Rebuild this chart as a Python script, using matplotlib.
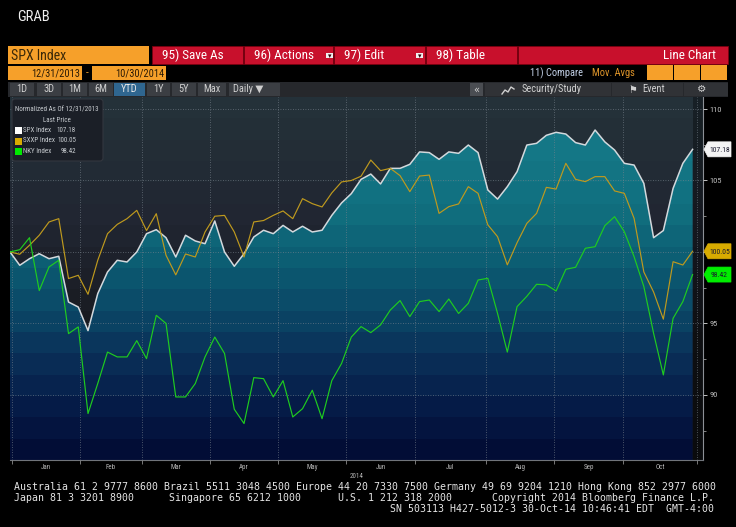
import numpy as np
import pandas as pd
import matplotlib
matplotlib.use("Agg")
import matplotlib.pyplot as plt
from matplotlib.patches import Rectangle, Polygon, FancyBboxPatch
from matplotlib.colors import LinearSegmentedColormap, ListedColormap
from matplotlib import font_manager

# ---- data -------------------------------------------------------------
start_date = "2013-12-31"
end_date = "2014-10-30"
axis_end = "2014-11-03"
holidays = ["2014-01-01", "2014-01-20", "2014-02-17", "2014-04-18",
            "2014-05-26", "2014-07-04", "2014-09-01"]
step = 3  # one reading every third session, normalized to 100 on 12/31/2013

spx = [100.0, 99.07, 99.53, 99.88, 99.53, 99.7, 96.5, 96.15, 94.5, 97.09,
       98.6, 99.42, 99.3, 100.0, 101.28, 101.56, 101.0, 99.65, 101.17, 100.77,
       100.58, 102.17, 100.0, 99.0, 99.88, 101.05, 101.52, 101.28, 101.86, 101.4,
       101.8, 101.4, 101.52, 102.56, 103.43, 104.08, 105.08, 105.45, 104.76, 105.85,
       105.85, 106.13, 107.0, 106.95, 106.48, 107.0, 106.9, 107.48, 106.95, 104.34,
       103.7, 104.57, 105.62, 107.48, 107.6, 108.16, 108.37, 108.25, 107.65, 107.48,
       108.53, 107.7, 107.13, 106.2, 106.08, 104.8, 101.0, 101.5, 104.45, 106.2,
       107.18]
sxxp = [100.0, 99.84, 100.47, 101.17, 102.1, 102.33, 98.14, 98.37, 97.04, 99.42,
        101.28, 101.93, 102.33, 102.91, 101.5, 102.68, 99.77, 98.4, 99.86, 99.65,
        101.4, 102.5, 102.56, 101.4, 99.65, 102.1, 102.2, 102.56, 102.87, 102.33,
        103.73, 103.38, 103.15, 104.13, 104.9, 105.0, 105.3, 106.43, 105.69, 105.85,
        105.34, 104.22, 105.31, 105.38, 102.7, 103.17, 103.36, 104.57, 104.1, 101.9,
        101.07, 99.1, 100.65, 102.0, 102.7, 104.52, 104.4, 106.2, 105.08, 104.92,
        105.27, 105.27, 104.27, 104.1, 102.35, 98.6, 97.2, 95.3, 99.32, 99.09,
        100.05]
nky = [100.0, 100.16, 101.0, 97.3, 98.95, 99.42, 94.29, 94.76, 88.7, 90.8,
       93.0, 92.66, 92.66, 93.8, 92.54, 95.57, 95.0, 89.86, 89.86, 90.8,
       92.66, 94.05, 92.9, 89.0, 88.0, 91.21, 91.14, 89.86, 91.0, 88.46,
       89.04, 90.33, 88.34, 91.0, 92.2, 94.05, 94.78, 94.36, 94.9, 95.94,
       96.6, 95.48, 96.53, 96.64, 95.83, 96.71, 95.7, 96.41, 98.04, 98.16,
       95.7, 93.0, 96.18, 96.9, 97.74, 97.7, 97.27, 98.79, 98.93, 100.26,
       100.37, 101.84, 102.47, 101.42, 99.67, 97.58, 94.31, 91.4, 95.36, 96.53,
       98.42]

series_names = ["SPX Index", "SXXP Index", "NKY Index"]
last_prices = ["107.18", "100.05", "98.42"]
months = ["Jan", "Feb", "Mar", "Apr", "May", "Jun", "Jul", "Aug", "Sep", "Oct"]
y_ticks = [90, 95, 100, 105, 110]
y_tick_labels = ["90", "95", "", "105", "110"]  # 100 sits under the SXXP tag

# ---- calendar ---------------------------------------------------------
cal = pd.bdate_range(start_date, axis_end)
cal = cal[~cal.isin(pd.to_datetime(holidays))]
n_data = int((cal <= pd.Timestamp(end_date)).sum())
x = np.arange(0, n_data, step)
month_starts = [i for i in range(1, len(cal)) if cal[i].month != cal[i - 1].month]
bounds = [m - 0.5 for m in month_starts]
centers_x = [(a + b) / 2 for a, b in zip(bounds[:-1], bounds[1:])]

# ---- fonts ------------------------------------------------------------
names = {f.name for f in font_manager.fontManager.ttflist}
ui_font = next((n for n in ["Liberation Sans Narrow", "Roboto Condensed"] if n in names),
               "Liberation Sans")
FAM = [ui_font, "DejaVu Sans"]
MONO = "DejaVu Sans Mono"

# ---- figure -----------------------------------------------------------
W, H = 736, 527
fig = plt.figure(figsize=(W / 100, H / 100), dpi=100, facecolor="black")
ax = fig.add_axes([10 / W, 1 - 460 / H, 693 / W, 363 / H], zorder=1)
ui = fig.add_axes([0, 0, 1, 1], zorder=2)
ui.set_xlim(0, W)
ui.set_ylim(H, 0)
ui.axis("off")
ui.patch.set_visible(False)

x_lo, x_hi = 0, 213.2
y_lo, y_hi = 85.45, 110.84

# background bands and banded gradient under SPX
teal_cmap = LinearSegmentedColormap.from_list(
    "teal", [(0, "#187e8c"), (0.3, "#117080"), (0.45, "#0c5d72"), (0.6, "#0b4666"),
             (0.72, "#0a2f58"), (0.85, "#061c48"), (1.0, "#020a33")])
gray_cmap = LinearSegmentedColormap.from_list("gray", ["#25333a", "#212632", "#17191e", "#101214"])
n_bands = 17
edges = np.linspace(y_lo, y_hi, n_bands + 1)
mid = (edges[:-1] + edges[1:]) / 2
t = (y_hi - mid) / (y_hi - y_lo)
img = np.arange(n_bands).reshape(-1, 1)

ax.imshow(img, cmap=ListedColormap(gray_cmap(t)), extent=[x_lo, x_hi, y_lo, y_hi],
          origin="lower", aspect="auto", interpolation="nearest",
          vmin=-0.5, vmax=n_bands - 0.5, zorder=0)
fb = ax.fill_between(x, spx, y_lo, facecolor="none", edgecolor="none")
teal = ax.imshow(img, cmap=ListedColormap(teal_cmap(t)), extent=[x[0], x[-1], y_lo, y_hi],
                 origin="lower", aspect="auto", interpolation="nearest",
                 vmin=-0.5, vmax=n_bands - 0.5, zorder=0.2)
teal.set_clip_path(fb.get_paths()[0], ax.transData)
ax.axvspan(x[-1], x_hi, color="black", alpha=0.35, lw=0, zorder=0.5)

ax.plot(x, spx, color="#d3d9dd", lw=1.1, zorder=4)
ax.plot(x, sxxp, color="#bf9a1e", lw=0.85, zorder=5)
ax.plot(x, nky, color="#1fcc1f", lw=0.85, zorder=6)

ax.set_xlim(x_lo, x_hi)
ax.set_ylim(y_lo, y_hi)
ax.set_axisbelow(False)

ax.set_xticks(bounds)
ax.set_xticklabels([])
ax.set_xticks(centers_x, minor=True)
ax.set_xticklabels(months, minor=True, fontsize=5, color="#b5b5b5", family=FAM)
ax.tick_params(axis="x", which="major", length=3, width=0.6, color="#8a8a8a", direction="out")
ax.tick_params(axis="x", which="minor", length=0, pad=3)

ax.yaxis.tick_right()
ax.set_yticks(y_ticks)
ax.set_yticklabels(y_tick_labels, fontsize=6, color="#c0c0c0", family=FAM)
ax.set_yticks([v - 2.5 for v in y_ticks], minor=True)
ax.tick_params(axis="y", which="major", length=3, width=0.7, color="#c0c0c0", pad=1.5)
ax.tick_params(axis="y", which="minor", length=2, width=0.6, color="#9a9a9a")

ax.grid(True, which="major", color="#7a848e", lw=0.6, ls=(0, (1, 2)), alpha=0.8, zorder=3)
for s in ["top", "left"]:
    ax.spines[s].set_visible(False)
ax.spines["right"].set_color("#8c9096")
ax.spines["right"].set_linewidth(0.8)
ax.spines["bottom"].set_color("#70747a")
ax.spines["bottom"].set_linewidth(0.8)

ui.text(357, 476, "2014", fontsize=5, color="#b5b5b5", ha="center", va="center", family=FAM)


# ---- helpers for the terminal chrome ---------------------------------
def box(x0, y0, x1, y1, fc, ec="none", lw=0):
    ui.add_patch(Rectangle((x0, y0), x1 - x0, y1 - y0, fc=fc, ec=ec, lw=lw))


def label(xp, yp, s, size=9, color="white", ha="left", family=FAM):
    ui.text(xp, yp, s, fontsize=size, color=color, ha=ha, va="center", family=family)


label(17, 17, "GRAB", size=10.5, color="#f0f0f0")

# security box and red action buttons
box(8, 46, 149, 64, "#f6a02a")
label(11, 55.5, "SPX Index", size=10, color="#3a2808")
buttons = [(152, 243, "95) Save As"), (244, 333, "96) Actions"), (334, 425, "97) Edit"),
           (426, 517, "98) Table")]
for x0, x1, txt in buttons:
    box(x0, 46, x1, 64, "#c8102c", ec="#7a0010", lw=0.6)
    label(x0 + 10, 55.5, txt, size=9.5)
box(518, 46, 728, 64, "#c8102c", ec="#7a0010", lw=0.6)
label(716, 55.5, "Line Chart", size=9.5, ha="right")
for xd in (326, 416):
    box(xd, 53, xd + 7, 58, "#f0f0f0")
    label(xd + 3.5, 55.7, "▾", size=5, color="#300008", ha="center", family=["DejaVu Sans"])

# date range row
box(8, 66, 82, 80, "#f6a02a")
box(92, 66, 166, 80, "#f6a02a")
label(80, 73.5, "12/31/2013", size=7.5, color="#2a1a05", ha="right")
label(164, 73.5, "10/30/2014", size=7.5, color="#2a1a05", ha="right")
label(87, 73, "-", size=8, color="#f6a02a", ha="center")
label(530, 73, "11) Compare", size=7.5, color="#c4d2e8")
label(592, 73, "Mov. Avgs", size=7.5, color="#e0962a")
for x0 in (647, 674, 701):
    box(x0, 65, x0 + 26, 80, "#f6a02a")

# toolbar row
box(8, 82, 728, 97, "#26282c")
periods = [(10, 34, "1D"), (37, 61, "3D"), (63, 87, "1M"), (89, 113, "6M"), (114, 145, "YTD"),
           (147, 170, "1Y"), (172, 196, "5Y"), (198, 226, "Max"), (229, 280, "Daily ▼")]
for x0, x1, txt in periods:
    box(x0, 83, x1, 96, "#2f6690" if txt == "YTD" else "#3b3e43")
    label((x0 + x1) / 2 if txt != "Daily ▼" else x0 + 4, 89.5, txt, size=7.5,
          color="#e8e8e8" if txt == "YTD" else "#cfcfcf",
          ha="center" if txt != "Daily ▼" else "left")
box(470, 83, 483, 96, "#4a4d52")
label(476.5, 89.5, "«", size=7, color="#d0d0d0", ha="center", family=["DejaVu Sans"])
box(485, 83, 611, 96, "#303236")
ui.plot([502, 505, 508, 511, 514], [94, 90, 92, 87, 89], color="#d0d0d0", lw=1)
label(522, 89.5, "Security/Study", size=7.5, color="#cfcfcf")
box(612, 83, 683, 96, "#303236")
label(628, 89.5, "⚑", size=7, color="#d0d0d0", family=["DejaVu Sans"])
label(642, 89.5, "Event", size=7.5, color="#cfcfcf")
box(684, 83, 728, 96, "#303236")
label(702, 89.5, "⚙", size=7.5, color="#d0d0d0", ha="center", family=["DejaVu Sans"])

# legend box
ui.add_patch(FancyBboxPatch((12, 99), 91, 62, boxstyle="round,pad=0,rounding_size=3",
                            fc="#1b1f27", ec="#33373f", lw=0.8))
label(15, 110, "Normalized As Of 12/31/2013", size=5, color="#c8ccd0")
label(57, 120.5, "Last Price", size=5, color="#c8ccd0", ha="center")
line_cols = ["#ffffff", "#d8ab00", "#00e800"]
for i, (nm, lp, c) in enumerate(zip(series_names, last_prices, line_cols)):
    yy = 130.5 + i * 10.5
    box(15, yy - 3.5, 21.5, yy + 3.5, c)
    label(23, yy, nm, size=5, color="#c8ccd0")
    label(76, yy, lp, size=5, color="#c8ccd0", ha="right")

# last value tags on the price axis
tag_cols = ["#f4f4f4", "#d8ab00", "#00ee00"]
last_vals = [spx[-1], sxxp[-1], nky[-1]]
for lv, lp, c in zip(last_vals, last_prices, tag_cols):
    yp = H - ax.transData.transform((0, lv))[1]
    ui.add_patch(Polygon([(704, yp), (708, yp - 7.5), (731, yp - 7.5),
                          (731, yp + 7.5), (708, yp + 7.5)], closed=True, fc=c, ec=c, lw=0.5))
    label(719.5, yp + 0.5, lp, size=5.5, color="#1a1a2e", ha="center")

# footer
label(14, 487, "Australia 61 2 9777 8600 Brazil 5511 3048 4500 Europe 44 20 7330 7500 "
      "Germany 49 69 9204 1210 Hong Kong 852 2977 6000", size=7.1, color="#e6e6e6", family=MONO)
label(14, 498, "Japan 81 3 3201 8900", size=7.1, color="#e6e6e6", family=MONO)
label(169, 498, "Singapore 65 6212 1000", size=7.1, color="#e6e6e6", family=MONO)
label(338, 498, "U.S. 1 212 318 2000", size=7.1, color="#e6e6e6", family=MONO)
label(714, 498, "Copyright 2014 Bloomberg Finance L.P.", size=7.1, color="#e6e6e6",
      ha="right", family=MONO)
label(714, 509, "SN 503113 H427-5012-3 30-Oct-14 10:46:41 EDT  GMT-4:00", size=7.1,
      color="#e6e6e6", ha="right", family=MONO)

fig.savefig("out.png", dpi=100, facecolor="black")
